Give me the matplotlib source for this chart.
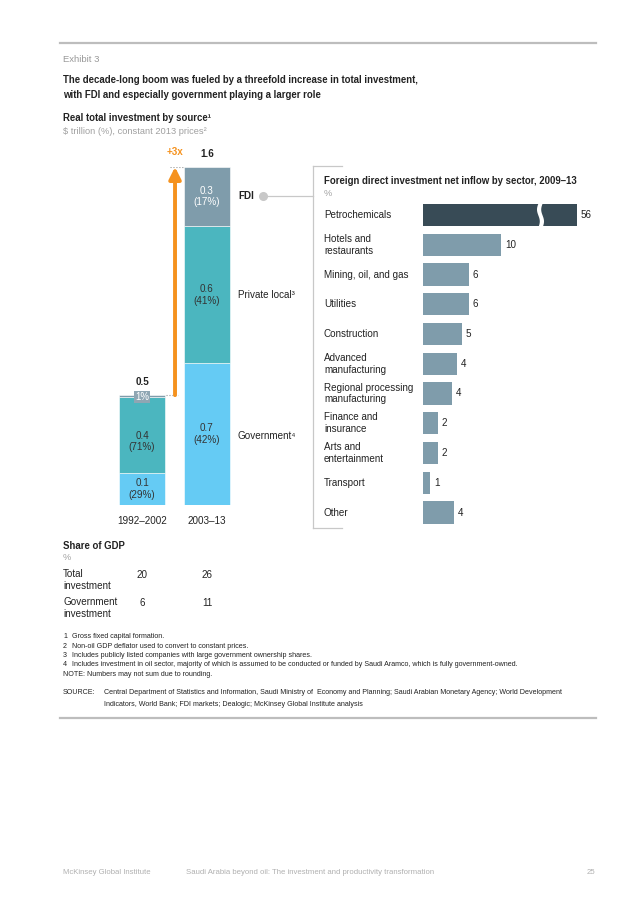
import matplotlib
matplotlib.use('Agg')
import matplotlib.pyplot as plt
import numpy as np
from matplotlib.lines import Line2D
from matplotlib.transforms import blended_transform_factory

plt.rcParams['font.family'] = ['Liberation Sans', 'DejaVu Sans']

# left chart: real total investment by source ($ trillion)
periods = ['1992–2002', '2003–13']
gov = [0.15, 0.67]
private = [0.36, 0.65]
fdi = [0.01, 0.28]
totals_lbl = ['0.5', '1.6']
gov_lbl = ['0.1\n(29%)', '0.7\n(42%)']
private_lbl = ['0.4\n(71%)', '0.6\n(41%)']
fdi_lbl = ['1%', '0.3\n(17%)']

# right chart: FDI net inflow by sector 2009-13 (%)
sectors = ['Petrochemicals', 'Hotels and\nrestaurants', 'Mining, oil, and gas',
           'Utilities', 'Construction', 'Advanced\nmanufacturing',
           'Regional processing\nmanufacturing', 'Finance and\ninsurance',
           'Arts and\nentertainment', 'Transport', 'Other']
sector_vals = [56, 10, 5.9, 5.9, 5.0, 4.4, 3.7, 1.9, 1.9, 0.9, 4.0]

# share of GDP table (%)
gdp_rows = ['Total\ninvestment', 'Government\ninvestment']
gdp_vals = [[20, 26], [6, 11]]

footnotes = [
    ('1', 'Gross fixed capital formation.'),
    ('2', 'Non-oil GDP deflator used to convert to constant prices.'),
    ('3', 'Includes publicly listed companies with large government ownership shares.'),
    ('4', 'Includes investment in oil sector, majority of which is assumed to be conducted or funded by Saudi Aramco, which is fully government-owned.'),
]

C_FDI = '#7f9cab'
C_PRIV = '#4bb6bf'
C_GOV = '#65cbf4'
C_DARK = '#384b56'
C_ORANGE = '#f5921e'
C_TXT = '#222222'
C_GRAY = '#a0a0a0'
C_LINE = '#c8c8c8'
FS = 7.1

W, H = 636, 900
fig = plt.figure(figsize=(W / 100, H / 100), dpi=100)


def fx(x):
    return x / W


def fy(y):
    return 1 - y / H


def txt(x, y, s, size=FS, **kw):
    kw.setdefault('va', 'center')
    kw.setdefault('color', C_TXT)
    fig.text(fx(x), fy(y), s, fontsize=size, **kw)


def hline(x0, x1, y, color=C_LINE, lw=0.8):
    fig.add_artist(Line2D([fx(x0), fx(x1)], [fy(y), fy(y)], color=color, lw=lw))


# header
hline(60, 596, 43, color='#bdbdbd', lw=1.6)
txt(63, 59, 'Exhibit 3', size=6.8, color='#999999')
txt(63, 80, 'The decade-long boom was fueled by a threefold increase in total investment,',
    size=6.9, weight='bold')
txt(63, 95, 'with FDI and especially government playing a larger role', size=6.9, weight='bold')
txt(63, 118, 'Real total investment by source¹', size=6.9, weight='bold')
txt(63, 131, '$ trillion (%), constant 2013 prices²', size=6.7, color=C_GRAY)

# stacked bars
ax1 = fig.add_axes([fx(100), fy(505), fx(150), (505 - 167) / H])
ax1.set_xlim(-42 / 65, 108 / 65)
ax1.set_ylim(0, 1.6)
ax1.axis('off')
x = np.arange(len(periods))
bw = 46 / 65
gov = np.array(gov)
private = np.array(private)
fdi = np.array(fdi)
ax1.bar(x, gov, bw, color=C_GOV, edgecolor='white', linewidth=0.4)
ax1.bar(x, private, bw, bottom=gov, color=C_PRIV, edgecolor='white', linewidth=0.4)
ax1.bar(x, fdi, bw, bottom=gov + private, color=C_FDI, edgecolor='white', linewidth=0.4)
tot = gov + private + fdi
for i in x:
    ax1.text(i, gov[i] / 2, gov_lbl[i], ha='center', va='center', fontsize=FS,
             color='#333333', linespacing=1.2)
    ax1.text(i, gov[i] + private[i] / 2 - (0.03 if i == 0 else 0), private_lbl[i],
             ha='center', va='center', fontsize=FS, color='#333333', linespacing=1.2)
    ax1.text(i, tot[i] + 0.06, totals_lbl[i], ha='center', va='center', fontsize=FS,
             weight='bold', color=C_TXT)
ax1.text(1, gov[1] + private[1] + fdi[1] / 2, fdi_lbl[1], ha='center', va='center',
         fontsize=FS, color='white', linespacing=1.2)
ax1.text(0, tot[0] - 0.008, fdi_lbl[0], ha='center', va='center', fontsize=6.9,
         color='white', bbox=dict(boxstyle='square,pad=0.1', fc='#8fa6b3', ec='none'))
for i in x:
    ax1.text(i, -0.075, periods[i], ha='center', va='center', fontsize=FS, color=C_TXT)

# growth arrow
ax_x = 0.508
ax1.annotate('', xy=(ax_x, tot[1]), xytext=(ax_x, tot[0]),
             arrowprops=dict(arrowstyle='-|>,head_width=0.35,head_length=0.7',
                             color=C_ORANGE, lw=2.8, shrinkA=0, shrinkB=0))
ax1.hlines(tot[1], 0.43, 0.64, colors='#999999', linestyles=':', lw=0.8)
ax1.hlines(tot[0], 0.37, 0.55, colors='#999999', linestyles=':', lw=0.8)
ax1.text(ax_x, tot[1] + 0.07, '+3x', ha='center', va='center', fontsize=FS,
         color=C_ORANGE, weight='bold')

# series labels
txt(238, 196, 'FDI', weight='bold')
txt(238, 295, 'Private local³')
txt(238, 436, 'Government⁴')
fig.add_artist(Line2D([fx(263), fx(313)], [fy(196), fy(196)], color=C_LINE, lw=0.9))
fig.add_artist(Line2D([fx(263)], [fy(196)], marker='o', ms=5.5, color=C_LINE, mec=C_LINE))

# FDI panel frame
fig.add_artist(Line2D([fx(313), fx(313)], [fy(166), fy(528)], color=C_LINE, lw=0.9))
hline(313, 342, 166, lw=0.9)
hline(313, 342, 528, lw=0.9)
txt(324, 181, 'Foreign direct investment net inflow by sector, 2009–13', size=6.9, weight='bold')
txt(324, 194, '%', size=6.7, color=C_GRAY)

# horizontal bars
step = 29.75
ax2 = fig.add_axes([fx(423), fy(215 + 10.5 * step), fx(177), 11 * step / H])
scale = 7.8
ax2.set_xlim(0, 177 / scale)
ax2.set_ylim(10.5, -0.5)
ax2.axis('off')
cap = (577 - 423) / scale
yy = np.arange(len(sectors))
shown = [min(v, cap) for v in sector_vals]
colors = [C_DARK] + [C_FDI] * (len(sectors) - 1)
ax2.barh(yy, shown, height=0.74, color=colors)
# axis break on the capped bar
t = np.linspace(-0.4, 0.4, 50)
brk = 15.0 + 0.18 * np.sin(np.pi * t / 0.4)
ax2.fill_betweenx(t, brk - 0.27, brk + 0.27, color='white', lw=0)
tr = blended_transform_factory(fig.transFigure, ax2.transData)
for i, (lab, v, s) in enumerate(zip(sectors, sector_vals, shown)):
    ax2.text(fx(324), i, lab, transform=tr, ha='left', va='center', fontsize=FS,
             color=C_TXT, linespacing=1.2)
    ax2.text(s + 0.5, i, f'{v:.0f}', ha='left', va='center', fontsize=FS, color=C_TXT)

# share of GDP
txt(63, 546, 'Share of GDP', size=6.9, weight='bold')
txt(63, 558, '%', size=6.7, color=C_GRAY)
for r, (lab, vals) in enumerate(zip(gdp_rows, gdp_vals)):
    y0 = 575 + r * 28
    txt(63, y0 + 5, lab, linespacing=1.3)
    for i, v in enumerate(vals):
        txt(142 + 65 * i, y0, str(v), ha='center')

# footnotes
for k, (n, s) in enumerate(footnotes):
    txt(63, 637 + k * 9.3, n, size=5.1)
    txt(72, 637 + k * 9.3, s, size=5.1)
txt(63, 674, 'NOTE: Numbers may not sum due to rounding.', size=5.1)
txt(63, 693, 'SOURCE:', size=5.1)
txt(104, 693, 'Central Department of Statistics and Information, Saudi Ministry of  Economy and Planning; '
    'Saudi Arabian Monetary Agency; World Development', size=5.1)
txt(104, 704, 'Indicators, World Bank; FDI markets; Dealogic; McKinsey Global Institute analysis', size=5.1)
hline(60, 596, 718, color='#bdbdbd', lw=1.6)

# footer
txt(63, 873, 'McKinsey Global Institute', size=5.6, color='#b0b0b0')
txt(186, 873, 'Saudi Arabia beyond oil: The investment and productivity transformation', size=5.6,
    color='#b0b0b0')
txt(595, 873, '25', size=5.6, color='#b0b0b0', ha='right')

fig.savefig('out.png', dpi=100)
